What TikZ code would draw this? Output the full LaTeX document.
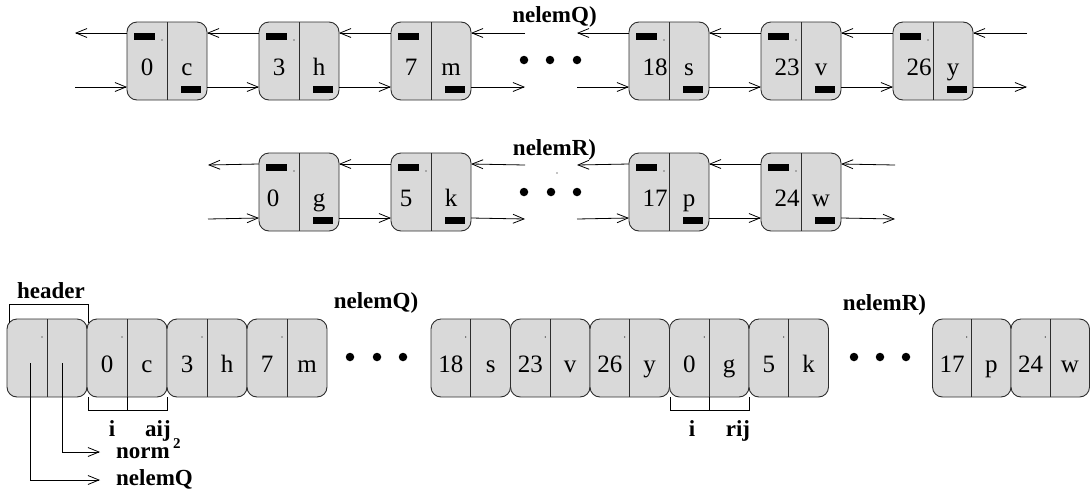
\documentclass[tikz,border=0pt]{standalone}
\usepackage{fontspec}
\setmainfont{Liberation Serif}
\usetikzlibrary{arrows.meta,calc}

\definecolor{cellgray}{RGB}{217,217,217}
\definecolor{edgegray}{RGB}{45,45,45}

\tikzset{
  cellbox/.style={draw=edgegray, fill=cellgray, line width=0.9pt, rounded corners=10pt,
    minimum height=78pt, inner sep=0pt, outer sep=0pt},
  divline/.style={draw=edgegray, line width=0.9pt},
  celltxt/.style={anchor=base, inner sep=0pt, font=\fontsize{25}{29}\selectfont},
  lbl/.style={anchor=base, inner sep=0pt, font=\fontsize{23}{27}\selectfont\bfseries},
  suplbl/.style={anchor=base west, inner sep=0pt, font=\fontsize{15}{15}\selectfont\bfseries},
  link/.style={line width=0.8pt, -{Straight Barb[length=11pt,width=9pt,line width=0.8pt]}},
  bracket/.style={line width=0.8pt},
  ellip/.style={circle, fill=black, inner sep=0pt, minimum size=8.5pt},
}

% one list element: name, left x, top y, width, key, value, key shift
\newcommand\lcell[7]{%
  \node[cellbox, minimum width=#4pt] (#1) at ({#2+#4/2},{#3+39}) {};
  \draw[divline] (#1.north) -- (#1.south);
  \node[celltxt] (#1-k) at ({#2+#4/4+#7},{#3+53}) {#5};
  \node[celltxt] (#1-v) at ({#2+3*#4/4},{#3+53}) {#6};
}
% pointer fields of a doubly linked element
\newcommand\ptrbars[1]{%
  \fill ($(#1.north west)+(7,11)$) rectangle ++(21,7);
  \fill ($(#1.north west)+(54,64)$) rectangle ++(20,7);
}
\newcommand\tickdot[1]{\fill ($(#1.north)+(-5,18)$) circle[radius=0.7pt];}
% prev / next links between two neighbouring elements
\newcommand\pairlinks[2]{%
  \draw[link] ($(#2.north west)+(0,11)$) -- ($(#1.north east)+(0,11)$);
  \draw[link] ($(#1.north east)+(0,65)$) -- ($(#2.north west)+(0,65)$);
}

\begin{document}
\begin{tikzpicture}[x=1pt,y=-1pt]
\useasboundingbox (0,0) rectangle (1090,496);

% ---------- list Q ----------
\lcell{q1}{127}{22}{80}{0}{c}{0}
\lcell{q2}{259}{22}{80}{3}{h}{0}
\lcell{q3}{391}{22}{80}{7}{m}{0}
\lcell{q4}{629}{22}{80}{18}{s}{6}
\lcell{q5}{761}{22}{80}{23}{v}{6}
\lcell{q6}{893}{22}{80}{26}{y}{6}
\foreach \n in {q1,q2,q3,q4,q5,q6} {\ptrbars{\n}}
\foreach \n in {q1,q2,q4,q5,q6} {\tickdot{\n}}

\coordinate (q0u) at (75,33);
\coordinate (q0l) at (75,87);
\coordinate (qg1u) at (525,33);
\coordinate (qg1l) at (525,87);
\coordinate (qg2u) at (577,33);
\coordinate (qg2l) at (577,87);
\coordinate (qeu) at (1027,33);
\coordinate (qel) at (1027,87);

\draw[link] ($(q1.north west)+(0,11)$) -- (q0u);
\draw[link] (q0l) -- ($(q1.north west)+(0,65)$);
\pairlinks{q1}{q2}
\pairlinks{q2}{q3}
\draw[link] (qg1u) -- ($(q3.north east)+(0,11)$);
\draw[link] ($(q3.north east)+(0,65)$) -- (qg1l);
\draw[link] ($(q4.north west)+(0,11)$) -- (qg2u);
\draw[link] (qg2l) -- ($(q4.north west)+(0,65)$);
\pairlinks{q4}{q5}
\pairlinks{q5}{q6}
\draw[link] (qeu) -- ($(q6.north east)+(0,11)$);
\draw[link] ($(q6.north east)+(0,65)$) -- (qel);

\node[ellip] (qd1) at (524,60) {};
\node[ellip] (qd2) at (550,60) {};
\node[ellip] (qd3) at (577,60) {};
\node[lbl] (qlab) at (554.5,22) {nelemQ)};

% ---------- list R ----------
\lcell{r1}{259}{153}{80}{0}{g}{-6}
\lcell{r2}{391}{153}{80}{5}{k}{-5}
\lcell{r3}{629}{153}{80}{17}{p}{6}
\lcell{r4}{761}{153}{80}{24}{w}{6}
\foreach \n in {r1,r2,r3,r4} {\ptrbars{\n}\tickdot{\n}}

\coordinate (r0u) at (208,165);
\coordinate (r0l) at (208,219);
\coordinate (rg1u) at (525,165);
\coordinate (rg1l) at (525,219);
\coordinate (rg2u) at (577,165);
\coordinate (rg2l) at (577,219);
\coordinate (reu) at (895,165);
\coordinate (rel) at (895,219);

\draw[link] ($(r1.north west)+(0,11)$) -- (r0u);
\draw[link] (r0l) -- ($(r1.north west)+(0,65)$);
\pairlinks{r1}{r2}
\draw[link] (rg1u) -- ($(r2.north east)+(0,11)$);
\draw[link] ($(r2.north east)+(0,65)$) -- (rg1l);
\draw[link] ($(r3.north west)+(0,11)$) -- (rg2u);
\draw[link] (rg2l) -- ($(r3.north west)+(0,65)$);
\pairlinks{r3}{r4}
\draw[link] (reu) -- ($(r4.north east)+(0,11)$);
\draw[link] ($(r4.north east)+(0,65)$) -- (rel);

\fill (557,173) circle[radius=0.7pt];
\node[ellip] (rd1) at (524,192) {};
\node[ellip] (rd2) at (551,192) {};
\node[ellip] (rd3) at (577,192) {};
\node[lbl] (rlab) at (554.5,155) {nelemR)};

% ---------- packed array ----------
\lcell{hdr}{7}{319}{80}{}{}{0}
\lcell{c0}{87}{319}{80}{0}{c}{0}
\lcell{c1}{167}{319}{80}{3}{h}{0}
\lcell{c2}{247}{319}{80}{7}{m}{0}
\lcell{c3}{431}{319}{79.5}{18}{s}{0}
\lcell{c4}{510.5}{319}{79.5}{23}{v}{0}
\lcell{c5}{590}{319}{79.5}{26}{y}{0}
\lcell{c6}{669.5}{319}{79.5}{0}{g}{0}
\lcell{c7}{749}{319}{79.5}{5}{k}{0}
\lcell{c8}{932.5}{319}{78.5}{17}{p}{0}
\lcell{c9}{1011}{319}{78.5}{24}{w}{0}
\foreach \n in {hdr,c0,c1,c2,c3,c4,c5,c6,c7,c8,c9} {\tickdot{\n}}

\node[ellip] (ad1) at (350,357) {};
\node[ellip] (ad2) at (377,357) {};
\node[ellip] (ad3) at (403,357) {};
\node[ellip] (ad4) at (854,357) {};
\node[ellip] (ad5) at (880,357) {};
\node[ellip] (ad6) at (906,357) {};
\node[lbl] (aqlab) at (376,308) {nelemQ)};
\node[lbl] (arlab) at (884.5,310) {nelemR)};

% header bracket
\draw[bracket] ($(hdr.north west)+(2,4)$) -- ($(hdr.north west)+(2,-15)$) -| ($(hdr.north east)+(1,4)$);
\node[lbl] (hlab) at (51,298) {header};

% header fields
\coordinate (hfa) at ($(hdr.north west)+(23,44)$);
\coordinate (hfb) at ($(hdr.north west)+(55,44)$);
\node[lbl, anchor=base west] (nrm) at (116,458) {norm};
\node[suplbl] (nrmexp) at (173,448) {2};
\node[lbl, anchor=base west] (nlq) at (116,485) {nelemQ};
\coordinate (nrmtip) at (100,452);
\coordinate (nlqtip) at (100,480);
\draw[link] (hfb) |- (nrmtip);
\draw[link] (hfa) |- (nlqtip);

% element brackets
\draw[bracket] ($(c0.south west)+(1,0)$) -- ++(0,13) -| (c0.south east);
\draw[bracket] (c0.south) -- ++(0,13);
\node[lbl] (ci) at (112,436) {i};
\node[lbl] (caij) at (158,436) {aij};

\draw[bracket] ($(c6.south west)+(1,0)$) -- ++(0,13) -| (c6.south east);
\draw[bracket] (c6.south) -- ++(0,13);
\node[lbl] (gi) at (692,436) {i};
\node[lbl] (grij) at (738,436) {rij};
\end{tikzpicture}
\end{document}
